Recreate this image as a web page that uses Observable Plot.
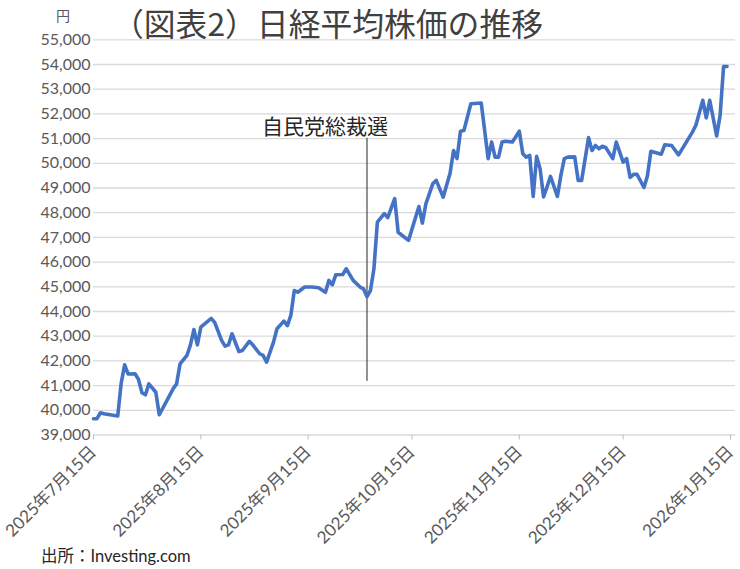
<!DOCTYPE html>
<html>
<head>
<meta charset="utf-8">
<script src="https://cdn.jsdelivr.net/npm/d3@7"></script>
<script src="https://cdn.jsdelivr.net/npm/@observablehq/plot@0.6"></script>
<style>
  html, body { margin: 0; padding: 0; background: #ffffff; }
  #wrap { position: relative; width: 740px; height: 569px; overflow: hidden; background: #fff; }
  #wrap svg { position: absolute; left: 0; top: 0; }
  .t { position: absolute; white-space: nowrap; line-height: 1; }
  #title { left: 112px; top: 7px; font-family: "Noto Sans CJK JP", sans-serif; font-size: 31.8px; color: #404040; }
  #unit { left: 56px; top: 8px; font-family: "Noto Sans CJK JP", sans-serif; font-size: 14px; color: #595959; }
  #source { left: 41px; top: 548px; font-family: Lato, "Noto Sans CJK JP", sans-serif; font-size: 16.5px; color: #262626; }
</style>
</head>
<body>
<div id="wrap"></div>
<script>
// ---- data ----
const dates = [
  "2025-07-15","2025-07-16","2025-07-17","2025-07-18","2025-07-22","2025-07-23","2025-07-24","2025-07-25",
  "2025-07-27","2025-07-28","2025-07-29","2025-07-30","2025-07-31","2025-08-02","2025-08-03","2025-08-07",
  "2025-08-08","2025-08-09","2025-08-11","2025-08-12","2025-08-13","2025-08-14","2025-08-15","2025-08-18",
  "2025-08-19","2025-08-21","2025-08-22","2025-08-23","2025-08-24","2025-08-26","2025-08-27","2025-08-29",
  "2025-08-30","2025-09-01","2025-09-02","2025-09-03","2025-09-05","2025-09-06","2025-09-08","2025-09-09",
  "2025-09-10","2025-09-11","2025-09-12","2025-09-14","2025-09-16","2025-09-18","2025-09-20","2025-09-21",
  "2025-09-22","2025-09-23","2025-09-25","2025-09-26","2025-09-28","2025-09-30","2025-10-01","2025-10-02",
  "2025-10-03","2025-10-04","2025-10-05","2025-10-07","2025-10-08","2025-10-10","2025-10-11","2025-10-14",
  "2025-10-17","2025-10-18","2025-10-19","2025-10-21","2025-10-22","2025-10-24","2025-10-26","2025-10-27",
  "2025-10-28","2025-10-29","2025-10-30","2025-11-01","2025-11-04","2025-11-06","2025-11-07","2025-11-08",
  "2025-11-09","2025-11-10","2025-11-11","2025-11-13","2025-11-15","2025-11-16","2025-11-17","2025-11-18",
  "2025-11-19","2025-11-20","2025-11-21","2025-11-22","2025-11-23","2025-11-24","2025-11-26","2025-11-27",
  "2025-11-28","2025-11-29","2025-12-01","2025-12-02","2025-12-03","2025-12-05","2025-12-06","2025-12-07",
  "2025-12-08","2025-12-09","2025-12-10","2025-12-12","2025-12-13","2025-12-15","2025-12-16","2025-12-17",
  "2025-12-18","2025-12-19","2025-12-21","2025-12-22","2025-12-23","2025-12-24","2025-12-26","2025-12-27",
  "2025-12-29","2025-12-31","2026-01-04","2026-01-05","2026-01-07","2026-01-08","2026-01-09","2026-01-11",
  "2026-01-12","2026-01-13","2026-01-14"
];
const values = [
  39660,39660,39900,39860,39770,41100,41840,41470,
  41480,41250,40710,40630,41070,40730,39820,40870,
  41070,41880,42220,42650,43270,42650,43370,43720,
  43560,42830,42600,42650,43100,42380,42420,42790,
  42650,42290,42220,41950,42760,43300,43610,43430,
  43840,44850,44780,44990,44990,44960,44780,45260,
  45080,45490,45500,45730,45260,44990,44920,44600,
  44850,45730,47620,47960,47800,48570,47210,46880,
  48250,47580,48360,49170,49310,48630,49600,50520,
  50190,51300,51330,52410,52440,50190,50860,50250,
  50250,50860,50890,50860,51300,50390,50250,50320,
  48660,50280,49780,48640,49040,49470,48660,49510,
  50190,50250,50260,49310,49310,51040,50520,50720,
  50590,50690,50630,50190,50860,50050,50190,49430,
  49550,49550,49020,49490,50490,50450,50370,50750,
  50720,50340,51260,51540,52550,51840,52550,51110,
  51940,53920,53920
];
const xTicks = ["2025-07-15","2025-08-15","2025-09-15","2025-10-15","2025-11-15","2025-12-15","2026-01-15"];
const yTicks = [39000,40000,41000,42000,43000,44000,45000,46000,47000,48000,49000,50000,51000,52000,53000,54000,55000];
const eventDates = ["2025-10-02"];
const eventLabels = ["自民党総裁選"];
const eventLineFrom = [41170];
const eventLineTo = [51010];
const eventLabelAt = [51475];

const titleText = "（図表2）日経平均株価の推移";
const unitText = "円";
const sourceText = "出所：Investing.com";

// ---- build ----
const parse = d3.utcParse("%Y-%m-%d");
const series = dates.map((d, i) => ({date: parse(d), value: values[i]}));
const tickDates = xTicks.map(parse);
const events = eventDates.map((d, i) => ({date: parse(d), label: eventLabels[i], y1: eventLineFrom[i], y2: eventLineTo[i], ly: eventLabelAt[i]}));
const fmtDate = d => `${d.getUTCFullYear()}年${d.getUTCMonth() + 1}月${d.getUTCDate()}日`;

const chart = Plot.plot({
  width: 740,
  height: 569,
  marginLeft: 93,
  marginRight: 5,
  marginTop: 39.3,
  marginBottom: 134.5,
  style: {fontFamily: 'Lato, "Noto Sans CJK JP", sans-serif', fontSize: "16px", color: "#595959", background: "transparent", overflow: "visible"},
  x: {type: "utc", domain: [tickDates[0], tickDates[tickDates.length - 1]], range: [93, 730]},
  y: {domain: [yTicks[0], yTicks[yTicks.length - 1]], range: [434.5, 39.3]},
  marks: [
    Plot.ruleY(yTicks, {stroke: "#D9D9D9", strokeWidth: 1.3}),
    Plot.axisY({ticks: yTicks, tickFormat: d3.format(","), tickSize: 0, tickPadding: 3, label: null, fill: "#595959"}),
    Plot.axisX({ticks: tickDates, tickFormat: fmtDate, tickSize: 5, tickPadding: 9, tickRotate: -45, label: null, stroke: "#BFBFBF", fill: "#595959", fontSize: 17}),
    Plot.ruleX(events, {x: "date", y1: "y1", y2: "y2", stroke: "#262626", strokeWidth: 1}),
    Plot.text(events, {x: "date", y: "ly", text: "label", textAnchor: "end", dx: 21, fontSize: 21, fill: "#262626", fontFamily: '"Noto Sans CJK JP", sans-serif'}),
    Plot.line(series, {x: "date", y: "value", stroke: "#4472C4", strokeWidth: 3.6, strokeLinejoin: "round", strokeLinecap: "round"})
  ]
});

const wrap = document.getElementById("wrap");
wrap.appendChild(chart);
function addText(id, txt) {
  const el = document.createElement("div");
  el.className = "t"; el.id = id; el.textContent = txt;
  wrap.appendChild(el);
}
addText("title", titleText);
addText("unit", unitText);
addText("source", sourceText);
</script>
</body>
</html>
